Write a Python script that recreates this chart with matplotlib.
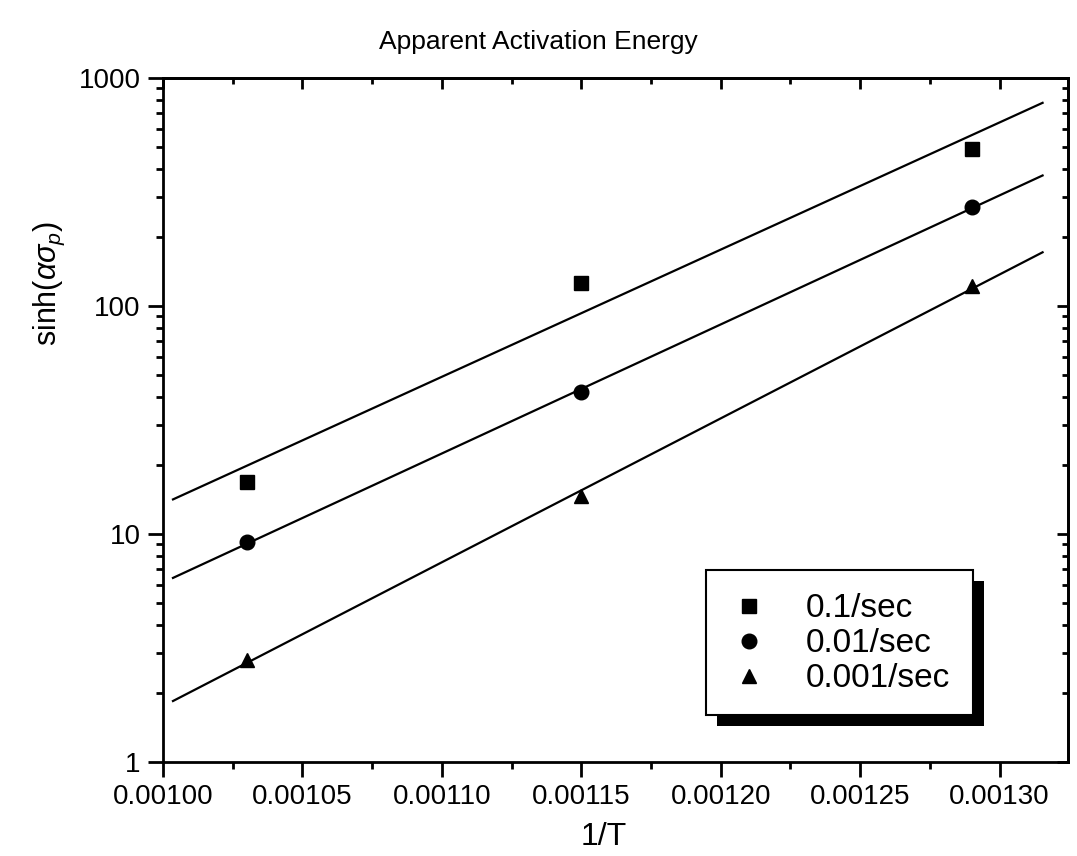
import numpy as np
import matplotlib.pyplot as plt
from matplotlib.patches import Rectangle
from matplotlib.ticker import MultipleLocator, LogLocator, NullFormatter, FormatStrFormatter

plt.rcParams['font.family'] = ['Liberation Sans', 'DejaVu Sans']
plt.rcParams['mathtext.fontset'] = 'custom'
plt.rcParams['mathtext.it'] = 'Liberation Sans:italic'
plt.rcParams['mathtext.rm'] = 'Liberation Sans'

# Données
inv_T = [0.00103, 0.00115, 0.00129]
rates = ['0.1/sec', '0.01/sec', '0.001/sec']
sinh_01 = [16.9, 126, 488]
sinh_001 = [9.2, 42, 272]
sinh_0001 = [2.8, 14.7, 122]
markers = ['s', 'o', '^']
x_fit = [0.0010036, 0.0013154]

fig = plt.figure(figsize=(10.77, 8.56), dpi=100)
ax = fig.add_axes([0.1513, 0.1098, 0.8403, 0.7991])

x = np.array(inv_T)
xf = np.array(x_fit)
for y, m, lab in zip([sinh_01, sinh_001, sinh_0001], markers, rates):
    y = np.array(y)
    p = np.polyfit(x, np.log10(y), 1)
    ax.plot(xf, 10**np.polyval(p, xf), color='black', lw=1.6, zorder=2)
    ax.plot(x, y, linestyle='none', marker=m, color='black', ms=10.5, label=lab, zorder=3)

ax.set_yscale('log')
ax.set_xlim(0.00100, 0.0013245)
ax.set_ylim(1, 1000)

ax.xaxis.set_major_locator(MultipleLocator(0.00005))
ax.xaxis.set_minor_locator(MultipleLocator(0.000025))
ax.xaxis.set_major_formatter(FormatStrFormatter('%.5f'))
ax.yaxis.set_major_locator(LogLocator(base=10))
ax.yaxis.set_major_formatter(FormatStrFormatter('%d'))
ax.yaxis.set_minor_locator(LogLocator(base=10, subs=np.arange(2, 10)))
ax.yaxis.set_minor_formatter(NullFormatter())

for s in ax.spines.values():
    s.set_linewidth(2)
ax.tick_params(which='major', direction='out', length=11, width=2, labelsize=20, pad=5)
ax.tick_params(which='minor', direction='out', length=5, width=2)
# graduations intérieures en haut et à droite
sec_x = ax.secondary_xaxis('top')
sec_x.xaxis.set_major_locator(MultipleLocator(0.00005))
sec_x.xaxis.set_minor_locator(MultipleLocator(0.000025))
sec_x.tick_params(which='major', direction='in', length=8, width=2, labeltop=False)
sec_x.tick_params(which='minor', direction='in', length=4, width=2)
sec_x.spines['top'].set_linewidth(2)
sec_y = ax.secondary_yaxis('right')
sec_y.set_yscale('log')
sec_y.yaxis.set_major_locator(LogLocator(base=10))
sec_y.yaxis.set_minor_locator(LogLocator(base=10, subs=np.arange(2, 10)))
sec_y.tick_params(which='major', direction='in', length=8, width=2, labelright=False)
sec_y.tick_params(which='minor', direction='in', length=4, width=2, labelright=False)
sec_y.spines['right'].set_linewidth(2)

ax.set_xlabel('1/T', fontsize=23)
ax.xaxis.set_label_coords(0.487, -0.087)
ax.set_ylabel(r'sinh($\alpha\sigma_p$)', fontsize=22)
ax.yaxis.set_label_coords(-0.106, 0.70)
fig.text(0.5, 0.951, 'Apparent Activation Energy', ha='center', va='center', fontsize=19)

# cadre de légende avec ombre
ax.add_patch(Rectangle((0.6122, 0.0526), 0.295, 0.212, transform=ax.transAxes,
                       facecolor='black', edgecolor='none', zorder=4))
ax.add_patch(Rectangle((0.600, 0.0687), 0.295, 0.212, transform=ax.transAxes,
                       facecolor='white', edgecolor='black', lw=1.5, zorder=5))
leg = ax.legend(loc='center', bbox_to_anchor=(0.749, 0.173), frameon=False,
                fontsize=24, handlelength=1, handletextpad=1.2, labelspacing=0.12,
                borderaxespad=0)
leg.set_zorder(6)

fig.savefig('out.png', dpi=100)
